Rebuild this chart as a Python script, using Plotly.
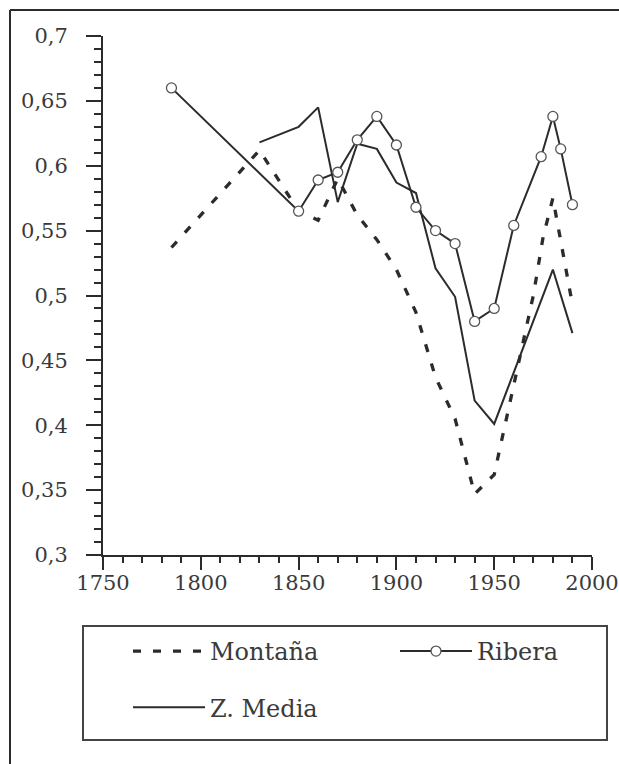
import plotly.graph_objects as go

# Data
montana_years = [1785, 1830, 1850, 1860, 1870, 1880, 1890, 1900, 1910, 1920, 1930, 1940, 1950, 1960, 1970, 1975, 1980, 1990]
montana_vals = [0.537, 0.612, 0.565, 0.558, 0.59, 0.562, 0.543, 0.52, 0.487, 0.437, 0.405, 0.347, 0.362, 0.43, 0.5, 0.545, 0.575, 0.493]

ribera_years = [1785, 1850, 1860, 1870, 1880, 1890, 1900, 1910, 1920, 1930, 1940, 1950, 1960, 1974, 1980, 1984, 1990]
ribera_vals = [0.66, 0.565, 0.589, 0.595, 0.62, 0.638, 0.616, 0.568, 0.55, 0.54, 0.48, 0.49, 0.554, 0.607, 0.638, 0.613, 0.57]

zmedia_years = [1830, 1850, 1860, 1870, 1880, 1890, 1900, 1910, 1920, 1930, 1940, 1950, 1980, 1990]
zmedia_vals = [0.618, 0.63, 0.645, 0.572, 0.617, 0.613, 0.587, 0.579, 0.521, 0.499, 0.419, 0.401, 0.52, 0.471]

y_tickvals = [0.3, 0.35, 0.4, 0.45, 0.5, 0.55, 0.6, 0.65, 0.7]
x_tickvals = [1750, 1800, 1850, 1900, 1950, 2000]

INK = "#2b2b2b"
TXT = "#3a3a3a"
FONT = "DejaVu Serif"

fig = go.Figure()
fig.add_trace(go.Scatter(
    x=montana_years, y=montana_vals, name="Montaña", mode="lines",
    line=dict(color=INK, width=3.3, dash="8px,12px"),
    legend="legend", legendgroup="m", legendrank=1,
))
fig.add_trace(go.Scatter(
    x=zmedia_years, y=zmedia_vals, name="Z. Media", mode="lines",
    line=dict(color=INK, width=2),
    legend="legend", legendgroup="z", legendrank=2,
))
fig.add_trace(go.Scatter(
    x=ribera_years, y=ribera_vals, name="Ribera", mode="lines+markers",
    line=dict(color=INK, width=2),
    marker=dict(symbol="circle", size=10, color="white", line=dict(color="#555", width=1.3)),
    legend="legend2",
))

W, H = 619, 764
L, R, T, B = 103, 27, 36, 209
pw, ph = W - L - R, H - T - B

def px(xp):
    return (xp - L) / pw

def py(yp):
    return (H - B - yp) / ph

shapes = [
    # outer frame (top and left edges of the scanned figure)
    dict(type="line", xref="paper", yref="paper", x0=px(10), x1=px(619), y0=py(10), y1=py(10),
         line=dict(color=INK, width=2)),
    dict(type="line", xref="paper", yref="paper", x0=px(10), x1=px(10), y0=py(10), y1=py(764),
         line=dict(color=INK, width=2)),
    # legend box
    dict(type="rect", xref="paper", yref="paper", x0=px(83), x1=px(607), y0=py(740), y1=py(626),
         line=dict(color="#444", width=2)),
]

fig.update_layout(
    width=W, height=H,
    margin=dict(l=L, r=R, t=T, b=B, autoexpand=False),
    paper_bgcolor="white", plot_bgcolor="white",
    separators=", ",
    font=dict(family=FONT, color=TXT, size=21),
    shapes=shapes,
    showlegend=True,
    legend=dict(
        x=px(128), xanchor="left", y=py(629), yanchor="top",
        orientation="v", traceorder="grouped", tracegroupgap=22,
        itemwidth=72, font=dict(family=FONT, size=24, color=TXT),
        bgcolor="rgba(0,0,0,0)", borderwidth=0,
    ),
    legend2=dict(
        x=px(395), xanchor="left", y=py(629), yanchor="top",
        orientation="v", itemwidth=72, font=dict(family=FONT, size=24, color=TXT),
        bgcolor="rgba(0,0,0,0)", borderwidth=0,
    ),
)

fig.update_xaxes(
    range=[1750, 2000], tickvals=x_tickvals, showgrid=False, zeroline=False,
    showline=True, linecolor=INK, linewidth=2, automargin=False,
    ticks="outside", ticklen=13, tickwidth=2, tickcolor=INK,
    minor=dict(dtick=10, ticks="outside", ticklen=6, tickwidth=2, tickcolor=INK, showgrid=False),
    tickfont=dict(family=FONT, size=21, color=TXT),
    ticklabelstandoff=-5,
)
fig.update_yaxes(
    range=[0.3, 0.7], tickvals=y_tickvals, showgrid=False, zeroline=False,
    showline=True, linecolor=INK, linewidth=2, automargin=False,
    ticks="outside", ticklen=15, tickwidth=2, tickcolor=INK,
    minor=dict(dtick=0.01, ticks="outside", ticklen=7, tickwidth=2, tickcolor=INK, showgrid=False),
    tickfont=dict(family=FONT, size=21, color=TXT),
    ticklabelstandoff=14,
)

fig.write_html(
    "out.html",
    config={"displayModeBar": False},
    post_script=(
        "document.body.style.margin='0';"
        "document.body.style.overflow='hidden';"
        "document.documentElement.style.overflow='hidden';"
    ),
)
